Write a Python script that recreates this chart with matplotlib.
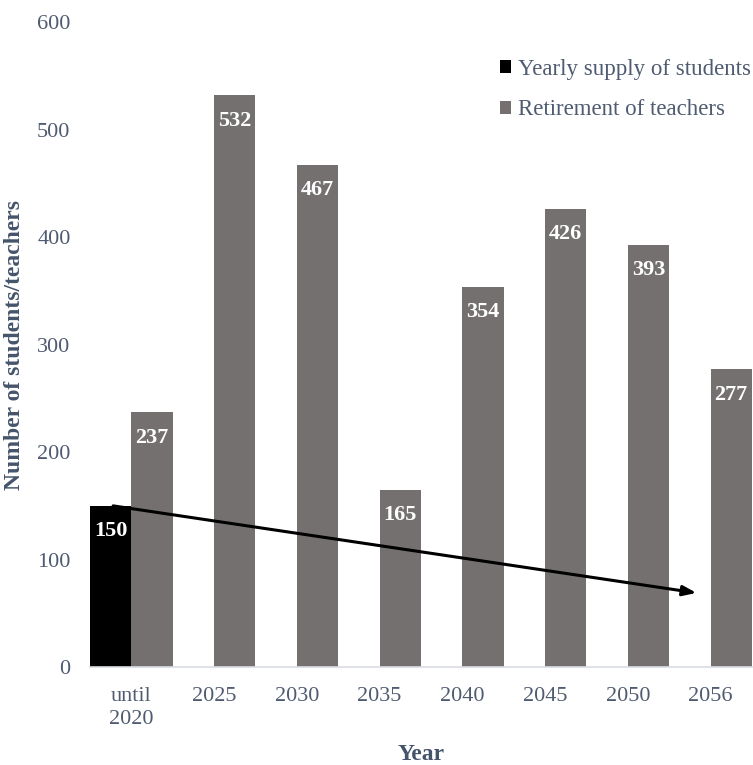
import matplotlib
matplotlib.use('Agg')
import matplotlib.pyplot as plt
import numpy as np

plt.rcParams['font.family'] = ['Liberation Serif', 'DejaVu Serif']

# data
years = ['until\n2020', '2025', '2030', '2035', '2040', '2045', '2050', '2056']
supply = [150, 0, 0, 0, 0, 0, 0, 0]
retirement = [237, 532, 467, 165, 354, 426, 393, 277]
# trend arrow (category position, value)
arrow_start = (-0.22, 150)
arrow_end = (6.83, 69)

text_col = '#4f5b70'
label_col = '#44546a'
gray = '#747070'
fs = 16

fig = plt.figure(figsize=(7.53, 7.65), dpi=100)
ax = fig.add_axes([0.1195, 0.128, 0.879, 0.843])

x = np.arange(len(years))
w = 0.5
b1 = ax.bar(x - w / 2, supply, w, color='black', label='Yearly supply of students')
b2 = ax.bar(x + w / 2, retirement, w, color=gray, label='Retirement of teachers')

# value labels inside the bars
for bars, vals in [(b1, supply), (b2, retirement)]:
    for r, v in zip(bars, vals):
        if v == 0:
            continue
        ax.annotate(str(v), (r.get_x() + r.get_width() / 2, v),
                    xytext=(0, -11), textcoords='offset points',
                    ha='center', va='top', color='white',
                    fontsize=fs, fontweight='bold')

ax.annotate('', xy=arrow_end, xytext=arrow_start,
            arrowprops=dict(arrowstyle='-|>,head_length=0.8,head_width=0.3',
                            color='black', lw=2.2, shrinkA=0, shrinkB=0))

ax.set_xlim(-0.5, 7.5)
ax.set_ylim(0, 600)
ax.set_yticks(range(0, 601, 100))
ax.set_xticks(x)
ax.set_xticklabels(years, linespacing=1.3)
ax.tick_params(axis='both', length=0, labelsize=fs, labelcolor=text_col)
ax.tick_params(axis='x', pad=14)
ax.tick_params(axis='y', pad=14)

for s in ['top', 'right', 'left']:
    ax.spines[s].set_visible(False)
ax.spines['bottom'].set_color('#d9dde3')
ax.spines['bottom'].set_linewidth(1.2)

ax.set_xlabel('Year', fontsize=17, fontweight='bold', color=label_col, labelpad=11)
ax.set_ylabel('Number of students/teachers', fontsize=17, fontweight='bold',
              color=label_col, labelpad=9)

leg = ax.legend(loc='upper right', bbox_to_anchor=(1.03, 0.975), frameon=False,
                fontsize=16.5, handlelength=0.5, handleheight=0.5,
                handletextpad=0.3, labelspacing=0.85)
for t in leg.get_texts():
    t.set_color(text_col)

fig.savefig('out.png', dpi=100)
